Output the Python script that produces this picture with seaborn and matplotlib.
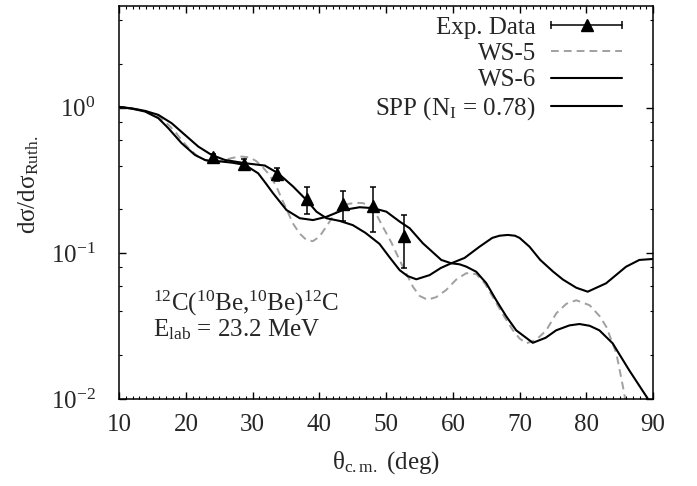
import matplotlib
matplotlib.use("Agg")
import matplotlib.pyplot as plt
from matplotlib.lines import Line2D
from matplotlib.legend_handler import HandlerBase
from matplotlib.ticker import MultipleLocator, LogLocator, NullFormatter
import seaborn as sns

exp_theta = [24.0, 28.7, 33.6, 38.2, 43.5, 48.0, 52.6]
exp_sigma = [0.461, 0.410, 0.349, 0.235, 0.217, 0.211, 0.131]
exp_err = [0.02, 0.033, 0.036, 0.05, 0.05, 0.072, 0.052]

# WS-5 (grey dashed)
ws5_theta = [10, 12, 14, 16, 17.5, 18.5, 19.3, 20.5, 21.8, 23.3, 24.5, 25.8, 27.0, 28.3,
             29.5, 30.5, 31.5, 32.5, 33.5, 34.5, 35.3, 36.0, 37.0, 38.0, 39.0, 40.0,
             41.0, 42.0, 43.0, 44.3, 45.5, 46.5, 47.5, 48.5, 49.5, 50.8, 52.0, 53.0,
             54.0, 55.0, 56.2, 57.5, 59.0, 60.5, 62.0, 63.5, 64.8, 66.0, 67.5, 69.0,
             70.0, 71.0, 72.5, 74.0, 75.5, 77.0, 78.5, 80.5, 82.0, 83.0, 84.5, 85.5, 86.2]
ws5_sigma = [1.01, 0.98, 0.945, 0.86, 0.75, 0.67, 0.60, 0.52, 0.461, 0.426, 0.425, 0.437,
             0.452, 0.461, 0.455, 0.43, 0.39, 0.345, 0.29, 0.228, 0.19, 0.161, 0.137,
             0.124, 0.121, 0.13, 0.152, 0.178, 0.204, 0.218, 0.222, 0.221, 0.212, 0.186,
             0.152, 0.118, 0.090, 0.073, 0.059, 0.051, 0.048, 0.050, 0.056, 0.066, 0.073,
             0.072, 0.062, 0.050, 0.038, 0.0296, 0.026, 0.0241, 0.0255, 0.0296, 0.0387,
             0.045, 0.0476, 0.044, 0.037, 0.0313, 0.0206, 0.0121, 0.008]

# WS-6 (black)
ws6_theta = [10, 12, 13.85, 15.84, 17.84, 19.84, 21.83, 23.83, 25.82, 28.82, 31.81, 33.8,
             36.05, 38.05, 39.55, 41.05, 43.04, 45.0, 46.9, 49.0, 50.5, 52.02, 53.2,
             54.52, 56.5, 58.2, 59.76, 61.0, 62.0, 63.5, 65.0, 66.5, 68.0, 69.49, 71.98,
             73.9, 75.48, 77.47, 78.97, 80.5, 81.96, 83.95, 86.45, 89.19, 90.0]
ws6_sigma = [1.01, 0.985, 0.949, 0.891, 0.781, 0.649, 0.540, 0.473, 0.437, 0.415, 0.40,
             0.354, 0.287, 0.232, 0.193, 0.174, 0.1667, 0.156, 0.138, 0.116, 0.094,
             0.0766, 0.0698, 0.0663, 0.0708, 0.0793, 0.0854, 0.084, 0.081, 0.0747,
             0.0624, 0.0476, 0.0369, 0.0296, 0.0243, 0.0263, 0.0296, 0.032, 0.0327,
             0.0318, 0.0296, 0.0241, 0.0157, 0.0101, 0.0088]

# SPP (black)
spp_theta = [10, 12, 13.85, 15.84, 17.34, 19.34, 21.33, 22.83, 24.0, 25.33, 27.0, 28.82,
             30.81, 32.0, 33.05, 35.06, 37.05, 39.04, 41.05, 43.53, 46.03, 48.02, 50.03,
             52.02, 53.52, 55.51, 58.26, 59.76, 61.75, 64.0, 65.9, 67.0, 68.23, 69.3,
             70.0, 71.48, 73.1, 75.0, 76.5, 78.5, 80.21, 82.96, 85.96, 87.95, 90.0]
spp_sigma = [1.01, 0.98, 0.939, 0.846, 0.722, 0.569, 0.473, 0.437, 0.428, 0.426, 0.418,
             0.404, 0.354, 0.30, 0.258, 0.198, 0.174, 0.169, 0.178, 0.198, 0.207, 0.204,
             0.193, 0.165, 0.1485, 0.117, 0.090, 0.0854, 0.0929, 0.111, 0.1275, 0.132,
             0.1336, 0.132, 0.1275, 0.111, 0.090, 0.075, 0.066, 0.058, 0.0545, 0.0622,
             0.0809, 0.090, 0.0914]


class ErrHandle(HandlerBase):
    # gnuplot style key: |---^---|
    def create_artists(self, legend, orig_handle, xdescent, ydescent, width, height,
                       fontsize, trans):
        y = height / 2 - ydescent
        x0, x1 = -xdescent, width - xdescent
        line = Line2D([x0, x1], [y, y], color="black", lw=1.1, transform=trans)
        caps = Line2D([x0, x1], [y, y], ls="none", marker="|", ms=6, mew=1.1,
                      color="black", transform=trans)
        tri = Line2D([(x0 + x1) / 2], [y], ls="none", marker="^", ms=9,
                     color="black", transform=trans)
        return [line, caps, tri]


sns.set_theme(style="ticks")
plt.rcParams["font.family"] = ["Liberation Serif", "DejaVu Serif"]
plt.rcParams["mathtext.fontset"] = "custom"
plt.rcParams["mathtext.rm"] = "Liberation Serif"
plt.rcParams["mathtext.it"] = "Liberation Serif:italic"
plt.rcParams["mathtext.bf"] = "Liberation Serif:bold"
plt.rcParams["axes.unicode_minus"] = False
fs = 18

fig = plt.figure(figsize=(6.97, 4.86), dpi=100)
ax = fig.add_axes([0.1712, 0.179, 0.7657, 0.8093])

sns.lineplot(x=ws5_theta, y=ws5_sigma, ax=ax, sort=False, estimator=None,
             color="#a0a0a0", lw=1.4, ls=(0, (4, 2.6)))
sns.lineplot(x=ws6_theta, y=ws6_sigma, ax=ax, sort=False, estimator=None,
             color="black", lw=1.5)
sns.lineplot(x=spp_theta, y=spp_sigma, ax=ax, sort=False, estimator=None,
             color="black", lw=1.5)
eb = ax.errorbar(exp_theta, exp_sigma, yerr=exp_err, fmt="^", color="black",
                 ms=9, elinewidth=1.1, capsize=2.5, capthick=1.1, zorder=5)

ax.set_yscale("log")
ax.set_xlim(10, 90)
ax.set_ylim(0.01, 5)
ax.xaxis.set_major_locator(MultipleLocator(10))
ax.xaxis.set_minor_locator(MultipleLocator(1))
ax.yaxis.set_major_locator(LogLocator(base=10, numticks=10))
ax.yaxis.set_minor_locator(LogLocator(base=10, subs=(2, 4, 6, 8), numticks=20))
ax.yaxis.set_minor_formatter(NullFormatter())
ax.tick_params(which="both", direction="in", top=True, right=True, color="black",
               labelsize=fs)
ax.tick_params(which="major", length=5, width=1)
ax.tick_params(which="minor", length=2.5, width=0.8)
ax.tick_params(axis="x", pad=11)
ax.tick_params(axis="y", pad=17)
for s in ax.spines.values():
    s.set_color("black")
    s.set_linewidth(1.1)

ax.set_xlabel("θ$_{\\mathrm{c.m.}}$ (deg)", fontsize=fs, va="top")
ax.xaxis.set_label_coords(0.5, -0.128)
ax.set_ylabel("dσ/dσ$_{\\mathrm{Ruth.}}$", fontsize=fs, va="bottom")
ax.yaxis.set_label_coords(-0.147, 0.544)

ax.text(0.063, 0.2797,
        "$^{12}$C($^{10}$Be,$^{10}$Be)$^{12}$C\nE$_{\\mathrm{lab}}$ = 23.2 MeV",
        transform=ax.transAxes, fontsize=fs, va="top", ha="left", linespacing=0.95)

handles = [eb,
           Line2D([], [], color="#a0a0a0", lw=1.4, ls=(0, (4, 2.6))),
           Line2D([], [], color="black", lw=1.5),
           Line2D([], [], color="black", lw=1.5)]
labels = ["Exp. Data", "WS-5", "WS-6", "SPP (N$_{\\mathrm{I}}$ = 0.78)"]
ax.legend(handles, labels, loc="upper right", bbox_to_anchor=(0.942, 0.973),
          frameon=False, markerfirst=False, fontsize=fs, handlelength=2.84,
          handletextpad=0.6, labelspacing=0.15, borderpad=0, borderaxespad=0,
          handler_map={eb: ErrHandle()})

fig.savefig("out.png", dpi=100)
